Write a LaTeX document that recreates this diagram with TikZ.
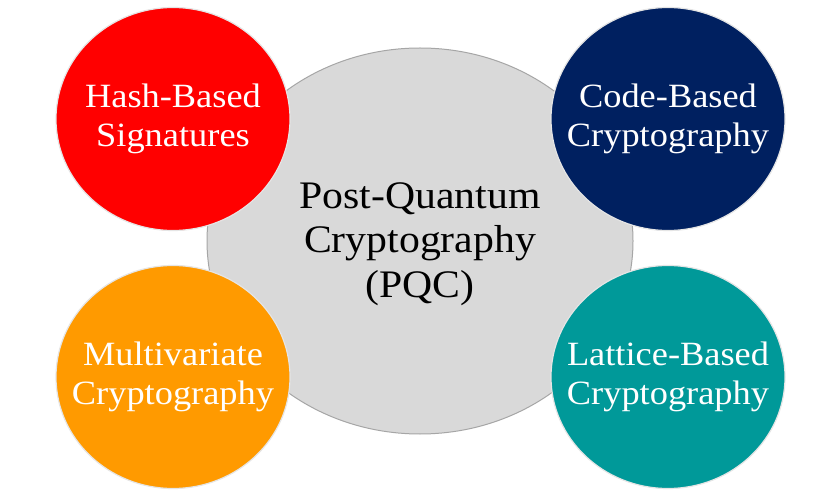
\documentclass[tikz,border=0pt]{standalone}
\usepackage{fontspec}
\setmainfont{Liberation Serif}[FakeStretch=1.07]
\usetikzlibrary{shapes.geometric}
\definecolor{pqcgrey}{HTML}{D9D9D9}
\definecolor{pqcline}{HTML}{A6A6A6}
\definecolor{hashred}{HTML}{FF0000}
\definecolor{codenavy}{HTML}{002060}
\definecolor{multiorange}{HTML}{FF9A00}
\definecolor{latticeteal}{HTML}{009999}

\begin{document}
\begin{tikzpicture}[x=1pt,y=1pt,
    family/.style={ellipse,minimum width=234pt,minimum height=223pt,inner sep=0pt,
      draw=black!10,line width=1.2pt},
    familytext/.style={align=center,text=white,inner sep=0pt,
      font=\fontsize{34}{39}\selectfont}]
        \useasboundingbox[fill=white] (0,0) rectangle (840,498);
        \node[ellipse,fill=pqcgrey,draw=pqcline,line width=1pt,minimum width=426pt,minimum height=386pt,inner sep=0pt,
          label={[align=center,inner sep=0pt,yshift=-3pt,font=\fontsize{39}{44.5}\selectfont]center:{Post-Quantum\\Cryptography\\(PQC)}}] (pqc) at (420,257) {};
        \node[family,fill=hashred,label={[familytext]center:{Hash-Based\\Signatures}}] (hash) at (173,379) {};
        \node[family,fill=codenavy,label={[familytext]center:{Code-Based\\Cryptography}}] (code) at (668,379) {};
        \node[family,fill=multiorange,label={[familytext]center:{Multivariate\\Cryptography}}] (multi) at (173,121) {};
        \node[family,fill=latticeteal,label={[familytext]center:{Lattice-Based\\Cryptography}}] (lattice) at (668,121) {};
    \end{tikzpicture}
\end{document}
